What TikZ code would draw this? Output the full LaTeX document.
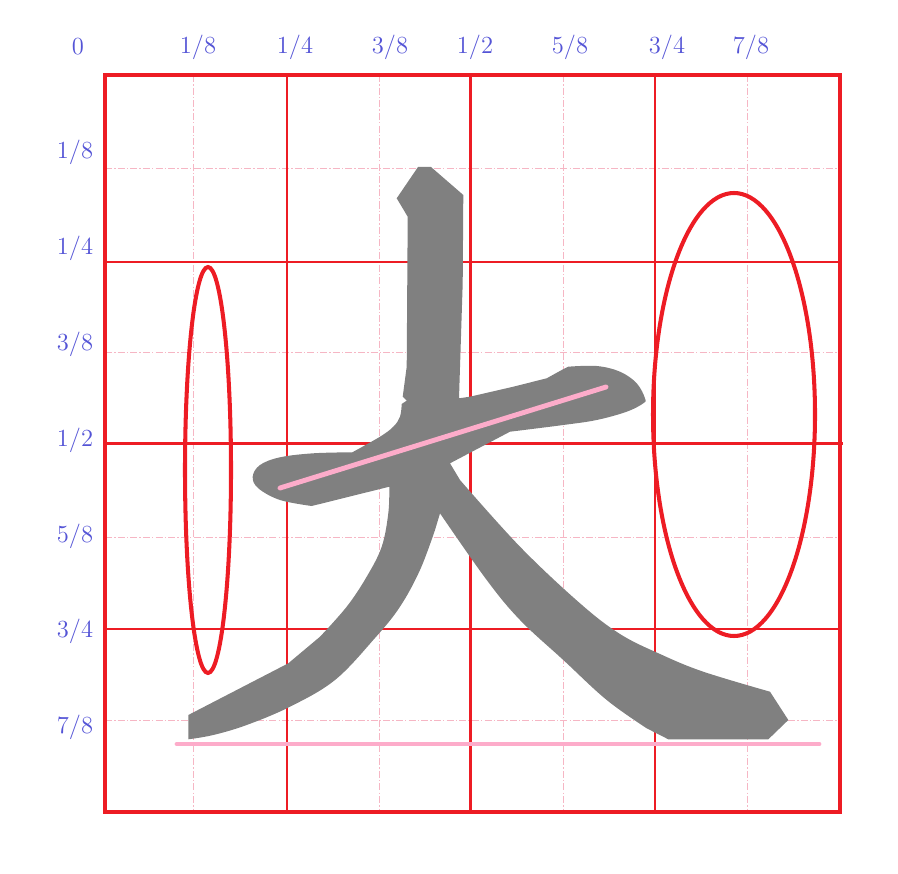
\documentclass[tikz,border=0pt]{standalone}
\usepackage{tikz}
\definecolor{gridRed}{RGB}{237, 28, 36}
\definecolor{gridPink}{RGB}{246, 182, 196}
\definecolor{lineRose}{RGB}{253, 172, 202}
\definecolor{inkGray}{RGB}{128, 128, 128}
\definecolor{labelBlue}{RGB}{84, 84, 214}

\tikzset{
  lbl/.style={text=labelBlue, inner sep=0pt, font=\fontsize{14}{16}\selectfont},
  guide/.style={draw=gridPink, line width=0.45pt, dash pattern=on 4pt off 1.2pt on 0.8pt off 1.2pt},
  quarter/.style={draw=gridRed, line width=1pt},
  half/.style={draw=gridRed, line width=1.6pt},
  frame/.style={draw=gridRed, line width=2.8pt},
  ring/.style={draw=gridRed, line width=2.3pt},
  rule/.style={draw=lineRose, line width=2.8pt, line cap=round}
}

\begin{document}
\begin{tikzpicture}[x=0.02cm, y=-0.02cm]
  \useasboundingbox (0,0) rectangle (898,874);

  % labels
  \foreach \x/\t [count=\i] in {78/0,198/1\slash8,295/1\slash4,390/3\slash8,475/1\slash2,570/5\slash8,667/3\slash4,751/7\slash8}
    \node[lbl] (top\i) at (\x,47) {\t};
  \foreach \y/\t [count=\i] in {152/1\slash8,248/1\slash4,344/3\slash8,440/1\slash2,536/5\slash8,631/3\slash4,727/7\slash8}
    \node[lbl] (side\i) at (75,\y) {\t};

  % grid
  \foreach \x in {193.3,379.3,563.3,747.3}
    \draw[guide] (\x,75) -- (\x,812);
  \foreach \y in {168.3,352,537.3,720}
    \draw[guide] (105,\y) -- (840,\y);
  \foreach \x in {287.3,655.3}
    \draw[quarter] (\x,75) -- (\x,812);
  \foreach \y in {262.3,629.3}
    \draw[quarter] (105,\y) -- (840,\y);
  \draw[half] (470.7,75) -- (470.7,812);
  \draw[half] (105,443.5) -- (843,443.5);
  \draw[frame] (105,75) rectangle (840,812);

  % glyph
  \fill[inkGray] (418,167) -- (431,167) -- (463.3,195) -- (462.7,283) -- (459,398.3)
    -- (470,396.7) -- (513.3,386.7) -- (546.7,378.3) -- (561.7,370)
    -- plot[smooth, tension=0.6] coordinates {(568.3,366.7) (596.7,366) (620,371.7) (636.7,383.3) (645,398.3)
       (643.3,403.3) (626.7,411.7) (596.7,420) (563.3,425) (510,431.7)}
    -- (450,463.3)
    -- plot[smooth, tension=0.6] coordinates {(460,480) (520,546.7) (580,603.3) (620,634) (660,654)
       (703.3,671.7) (770,691.7)}
    -- (788.3,720) -- (768.3,739.3) -- (668.3,739.3)
    -- plot[smooth, tension=0.6] coordinates {(646.7,728.3) (606.7,700) (563.3,660) (520,620) (486.7,580) (440,513.3)}
    -- plot[smooth, tension=0.6] coordinates {(435,530) (420,570) (400,606.7) (375,638) (335,680)
       (290,706.7) (246.7,725) (213.3,735) (188.3,739.3)}
    -- (188.3,715) -- (288.3,663.3)
    -- plot[smooth, tension=0.6] coordinates {(320,636.7) (346.7,606.7) (366.7,576.7) (381.7,546.7) (388.3,513.3)
       (389.3,486.7)}
    -- plot[smooth, tension=0.6] coordinates {(311.7,506) (280,500) (258.3,488.3) (252.7,476.7) (260,465) (280,457.3)
       (313.3,453.3) (352.3,452.3)}
    -- plot[smooth, tension=0.6] coordinates {(352.3,452.3) (380,436.7) (393.3,426.7) (400,416.7) (401.7,404)}
    -- (406.7,400.7) -- (402.7,396.7) -- (406.7,366.7) -- (407.7,216.7)
    -- (396.7,198.3) -- cycle;

  % marks
  \coordinate (slantA) at (280,488);
  \coordinate (slantB) at (606,387);
  \coordinate (baseA) at (177,744);
  \coordinate (baseB) at (819,744);
  \draw[rule] (slantA) -- (slantB);
  \draw[rule] (baseA) -- (baseB);
  \draw[ring] (208,470) ellipse (23 and 203);
  \draw[ring] (734,414.5) ellipse (81 and 221.5);
\end{tikzpicture}
\end{document}
